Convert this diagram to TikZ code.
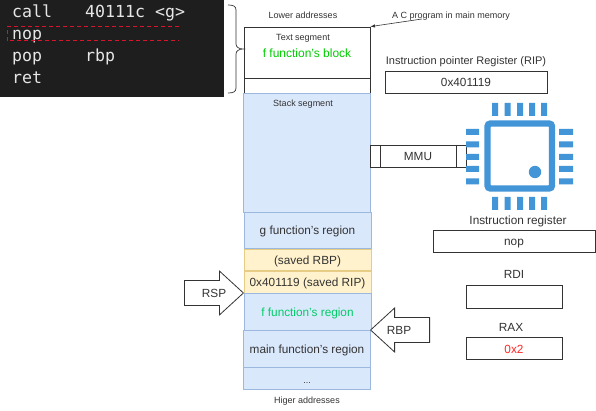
\documentclass[tikz,border=0pt]{standalone}
\usepackage{fontspec}
\setmainfont{Liberation Sans}
\setmonofont{DejaVu Sans Mono}
\usepackage{tikz}
\usetikzlibrary{shapes.arrows}
\definecolor{codebg}{HTML}{1E1E1E}
\definecolor{codefg}{HTML}{E6E6E6}
\definecolor{codemark}{HTML}{D8142C}
\definecolor{ink}{HTML}{333333}
\definecolor{regionfill}{HTML}{DAE8FC}
\definecolor{regionline}{HTML}{9DB8DE}
\definecolor{savedfill}{HTML}{FFF2CC}
\definecolor{savedline}{HTML}{E6CC85}
\definecolor{chipblue}{HTML}{4295D6}
\tikzset{
  label8/.style={font=\fontsize{9}{11}\selectfont,text=ink,inner sep=0pt,text height=7pt,text depth=0pt},
  label10/.style={font=\fontsize{11.8}{14}\selectfont,text=ink,inner sep=0pt,text height=9pt,text depth=0pt},
  codeline/.style={font=\ttfamily\fontsize{16.6}{18}\selectfont,text=codefg,anchor=base west,inner sep=0pt},
  region/.style={draw=regionline,fill=regionfill,line width=0.9pt,minimum width=127pt,inner sep=0pt,font=\fontsize{11.8}{14}\selectfont,text=ink,text height=10pt,text depth=0pt},
  saved/.style={draw=savedline,fill=savedfill,line width=0.9pt,minimum width=127pt,inner sep=0pt,font=\fontsize{11.8}{14}\selectfont,text=ink,text height=10pt,text depth=0pt},
  register/.style={draw=ink,line width=0.8pt,inner sep=0pt,font=\fontsize{11.8}{14}\selectfont,text=ink,text height=10pt,text depth=0pt},
  blockarrow/.style={draw=ink,fill=white,line width=0.8pt,single arrow,minimum height=59pt,minimum width=44pt,single arrow tip angle=85,inner xsep=2pt,inner ysep=5pt,text height=8pt,text depth=0pt,anchor=tip}
}
\begin{document}
\begin{tikzpicture}[x=1pt,y=-1pt]
  \path[use as bounding box,fill=white] (0,0) rectangle (596,411);
  %code listing
  \fill[codebg] (0,0) rectangle (224,97);
  \node[codeline] (call) at (12,18) {call};
  \node[codeline] (calltarget) at (85,18) {40111c <g>};
  \node[codeline] (nop) at (12,40) {nop};
  \node[codeline] (pop) at (12,62) {pop};
  \node[codeline] (poparg) at (85,62) {rbp};
  \node[codeline] (ret) at (12,84) {ret};
  \draw[codemark,line width=1pt,dashed,dash pattern=on 4pt off 3pt] (179,27) -- (7,27) -- (7,41) -- (179,41);
  %brace
  \draw[ink,line width=0.7pt] (228,5) .. controls (233,5) and (236,6) .. (236,10) -- (236,44) .. controls (236,47) and (239,49) .. (243,49) .. controls (239,49) and (236,51) .. (236,54) -- (236,88) .. controls (236,92) and (233,93) .. (228,93);
  %text segment
  \draw[ink,line width=0.7pt] (244,78) -- (244,93) (370,78) -- (370,93);
  \node[draw=ink,line width=0.8pt,minimum width=126pt,minimum height=51pt,inner sep=0pt] (textseg) at (307,52.5) {};
  \node[label8] (lower) at (303,15.5) {Lower addresses};
  \node[label8] (textlabel) at (303,37) {Text segment};
  \node[label10,font=\fontsize{12}{14}\selectfont,text={rgb,255:red,0;green,204;blue,0}] (fblock) at (307,53) {f function's block};
  %stack segment
  \node[region,minimum height=119pt] (stack) at (307,152.5) {};
  \node[label8] (stacklabel) at (303,103.5) {Stack segment};
  \node[region,minimum height=36pt] (gregion) at (307.5,230) {g function's region};
  \node[saved,minimum height=21pt] (savedrbp) at (307.5,259.5) {(saved RBP)};
  \node[saved,minimum height=22pt] (savedrip) at (307.5,282) {0x401119 (saved RIP)};
  \node[region,minimum height=37pt] (fregion) at (307.5,311.5) {\textcolor[HTML]{00CC66}{f function's region}};
  \node[region,minimum height=37pt] (mainregion) at (307,348.5) {main function's region};
  \node[region,minimum height=22pt] (dots) at (307,378) {\fontsize{9}{11}\selectfont ...};
  \node[label8] (higer) at (307,399.5) {Higer addresses};
  %program note
  \node[label8] (note) at (451,15.5) {A C program in main memory};
  \coordinate (noteend) at (422,19);
  \draw[ink,line width=0.6pt,-latex] (noteend) -- (textseg.north east);
  %registers
  \node[label10,font=\fontsize{11}{13}\selectfont] (riplabel) at (466,60.5) {Instruction pointer Register (RIP)};
  \node[register,minimum width=162pt,minimum height=22pt] (rip) at (466,82) {0x401119};
  \node[label10] (irlabel) at (518,220.5) {Instruction register};
  \node[register,minimum width=162pt,minimum height=22pt] (ir) at (514,241) {nop};
  \node[label10] (rdilabel) at (514,274.5) {RDI};
  \node[register,minimum width=96pt,minimum height=23pt] (rdi) at (514,296.5) {};
  \node[label10] (raxlabel) at (511,326.5) {RAX};
  \node[register,minimum width=96pt,minimum height=22pt,text=red!85] (rax) at (514,348) {0x2};
  %mmu
  \node[register,minimum width=96pt,minimum height=22pt] (mmu) at (418,156) {MMU};
  \draw[ink,line width=0.8pt] (380,145) -- (380,167) (456.5,145) -- (456.5,167);
  %chip
  \draw[chipblue,line width=6.4pt,rounded corners=3pt] (487.5,123.5) rectangle (552,188.5);
  \fill[chipblue] (535,172) circle (6.2);
  \fill[chipblue] (492,103) rectangle (498,116) (504.5,103) rectangle (510.5,116) (517,103) rectangle (523,116) (529,103) rectangle (535,116) (541,103) rectangle (547,116);
  \fill[chipblue] (492,197) rectangle (498,210) (504.5,197) rectangle (510.5,210) (517,197) rectangle (523,210) (529,197) rectangle (535,210) (541,197) rectangle (547,210);
  \fill[chipblue] (466,129) rectangle (479,135) (466,141.5) rectangle (479,147.5) (466,154) rectangle (479,160) (466,166) rectangle (479,172) (466,178.5) rectangle (479,184.5);
  \fill[chipblue] (559,129) rectangle (573,135) (559,141.5) rectangle (573,147.5) (559,154) rectangle (573,160) (559,166) rectangle (573,172) (559,178.5) rectangle (573,184.5);
  %pointers
  \node[blockarrow] (rsp) at (244,293) {};
  \node[label10] (rsplabel) at (214,292.5) {RSP};
  \node[blockarrow,shape border rotate=180] (rbp) at (370,330) {};
  \node[label10] (rbplabel) at (399,329.5) {RBP};
\end{tikzpicture}
\end{document}
